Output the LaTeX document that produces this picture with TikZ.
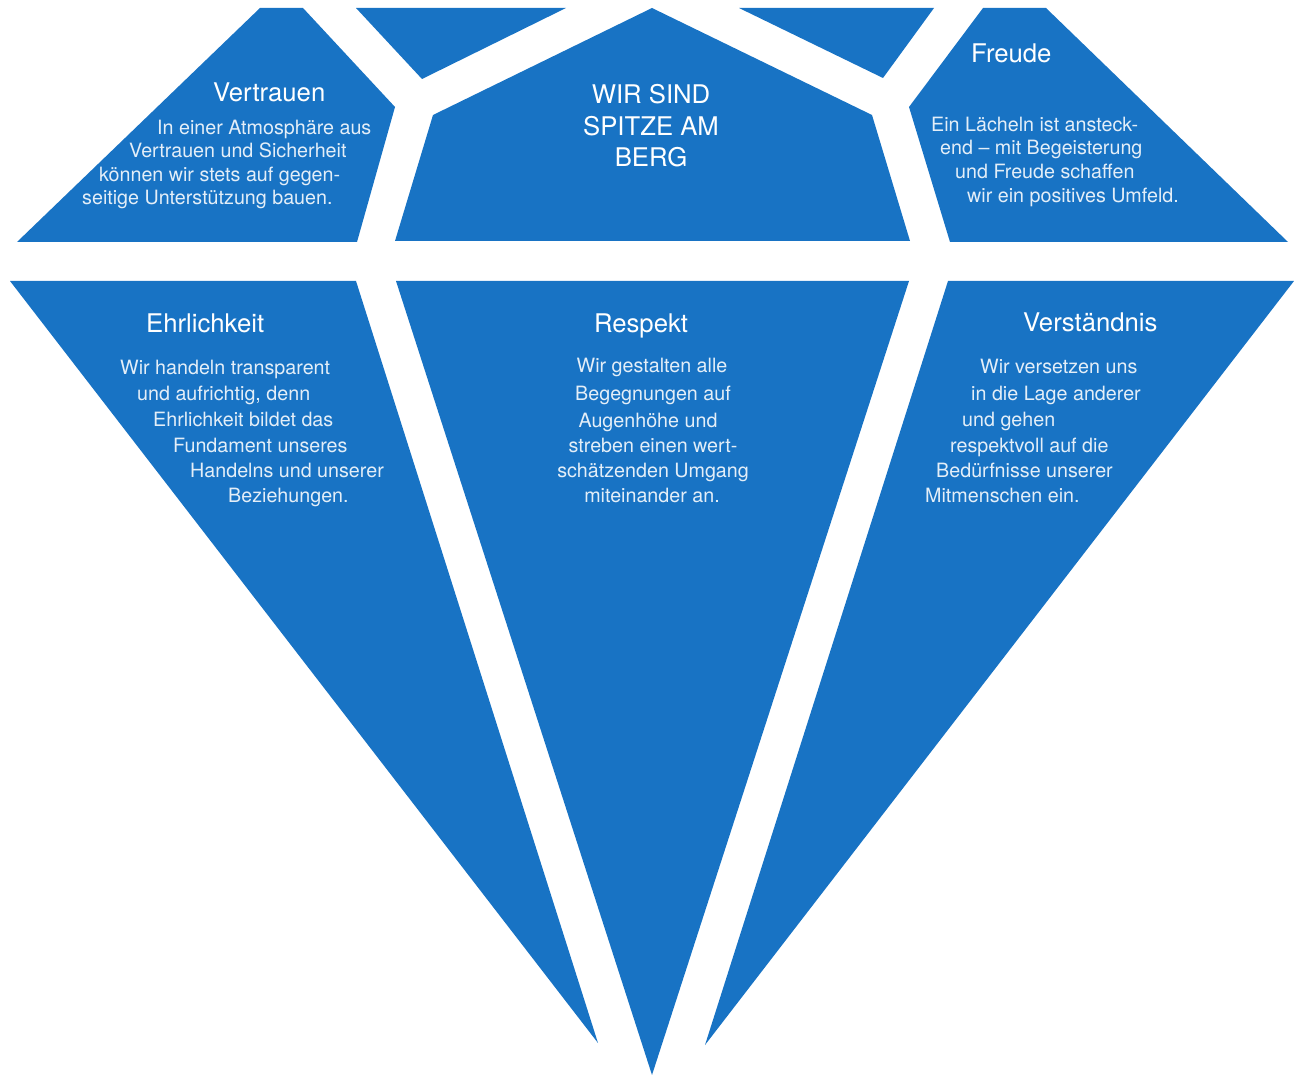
\documentclass[tikz,border=0pt]{standalone}
\usepackage{fontspec}
\setmainfont{TeX Gyre Heros}
\definecolor{diamondblue}{HTML}{1873C4}
\tikzset{
  facet/.style={fill=diamondblue},
  heading/.style={text=white, font=\fontsize{25.7}{32}\selectfont, inner sep=0pt},
  bodyline/.style={text=white!88!diamondblue, font=\fontsize{19.7}{24}\selectfont, inner sep=0pt, anchor=base west},
}

\begin{document}
\begin{tikzpicture}[x=1pt,y=-1pt]
  \useasboundingbox (0,0) rectangle (1294,1075);
  % top row
  \fill[facet] (260,8) -- (303,8) -- (395,107) -- (357,242) -- (17,242) -- cycle;
  \fill[facet] (356,8) -- (566,8) -- (422,79) -- cycle;
  \fill[facet] (652,8) -- (872,115) -- (910,241) -- (395,241) -- (433,115) -- cycle;
  \fill[facet] (739,8) -- (934,8) -- (883,78) -- cycle;
  \fill[facet] (983,8) -- (1046,8) -- (1288,242) -- (950,242) -- (909,107) -- cycle;
  % bottom row
  \fill[facet] (10,281) -- (356,281) -- (598,1043) -- cycle;
  \fill[facet] (396,281) -- (909,281) -- (652,1075) -- cycle;
  \fill[facet] (948,281) -- (1294,281) -- (705,1045) -- cycle;

  % Vertrauen
  \node[heading, anchor=base west] (vertrauen) at (213,102) {Vertrauen};
  \foreach \x/\y/\t [count=\i] in {157/135/In einer Atmosphäre aus, 129/158/Vertrauen und Sicherheit,
      99/182/können wir stets auf gegen-, 82/205/seitige Unterstützung bauen.}
    \node[bodyline] (vertrauen\i) at (\x,\y) {\t};

  % Spitze
  \foreach \y/\t [count=\i] in {104/WIR SIND, 136/SPITZE AM, 167/BERG}
    \node[heading, anchor=base] (spitze\i) at (651,\y) {\t};

  % Freude
  \node[heading, anchor=base west] (freude) at (971,63) {Freude};
  \foreach \x/\y/\t [count=\i] in {931/132/Ein Lächeln ist ansteck-, 940/155/end – mit Begeisterung,
      955/179/und Freude schaffen, 967/203/wir ein positives Umfeld.}
    \node[bodyline] (freude\i) at (\x,\y) {\t};

  % Ehrlichkeit
  \node[heading, anchor=base west] (ehrlichkeit) at (146,333) {Ehrlichkeit};
  \foreach \x/\y/\t [count=\i] in {120/375/Wir handeln transparent, 137/401/{und aufrichtig, denn},
      153/427/Ehrlichkeit bildet das, 173/452/Fundament unseres, 190/477/Handelns und unserer,
      228/502/Beziehungen.}
    \node[bodyline] (ehrlichkeit\i) at (\x,\y) {\t};

  % Respekt
  \node[heading, anchor=base] (respekt) at (641,333) {Respekt};
  \foreach \x/\y/\t [count=\i] in {652/373/Wir gestalten alle, 653/400/Begegnungen auf,
      648/428/Augenhöhe und, 653/452/streben einen wert-, 653/477/schätzenden Umgang,
      652/502/miteinander an.}
    \node[bodyline, anchor=base] (respekt\i) at (\x,\y) {\t};

  % Verständnis
  \node[heading, anchor=base west] (verstaendnis) at (1023,332) {Verständnis};
  \foreach \x/\y/\t [count=\i] in {980/374/Wir versetzen uns, 971/401/in die Lage anderer,
      962/427/und gehen, 950/452/respektvoll auf die, 936/477/Bedürfnisse unserer,
      925/502/Mitmenschen ein.}
    \node[bodyline] (verstaendnis\i) at (\x,\y) {\t};
\end{tikzpicture}
\end{document}
